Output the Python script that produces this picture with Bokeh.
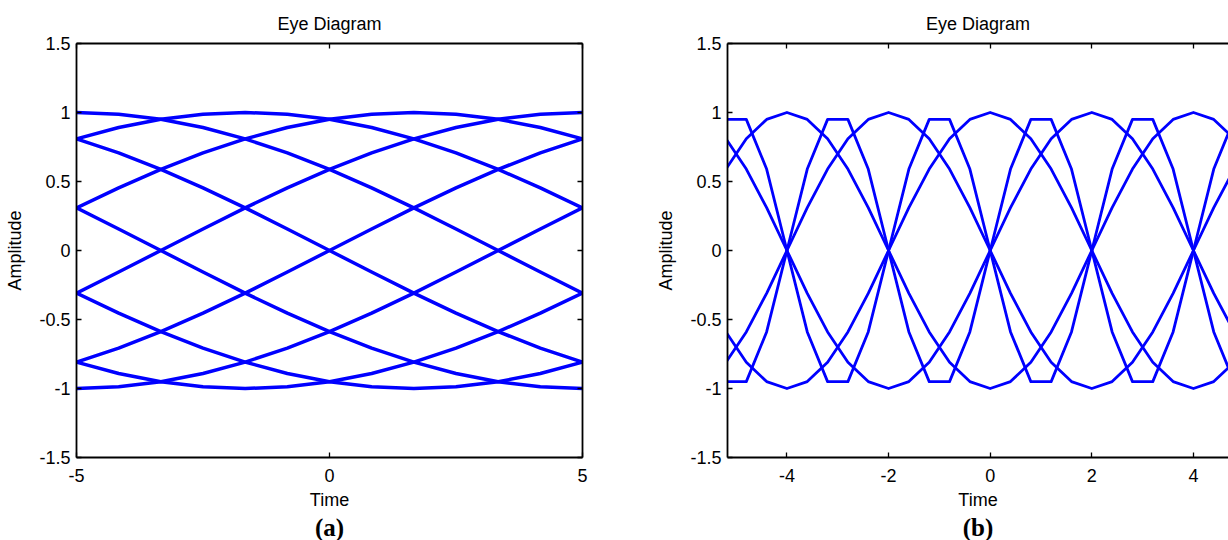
from bokeh.plotting import figure
from bokeh.layouts import row
from bokeh.models import FixedTicker, LinearAxis, Title, PrintfTickFormatter, Range1d
from bokeh.embed import file_html
from bokeh.resources import INLINE

# ---- panel (a): slow sinusoid traces over one display window ----
time_a = [-5.0, -4.1667, -3.3333, -2.5, -1.6667, -0.8333, 0.0,
          0.8333, 1.6667, 2.5, 3.3333, 4.1667, 5.0]
traces_a = [
    [1.0, 0.988, 0.951, 0.891, 0.809, 0.707, 0.588, 0.454, 0.309, 0.156, 0.0, -0.156, -0.309],
    [0.809, 0.707, 0.588, 0.454, 0.309, 0.156, 0.0, -0.156, -0.309, -0.454, -0.588, -0.707, -0.809],
    [0.309, 0.156, 0.0, -0.156, -0.309, -0.454, -0.588, -0.707, -0.809, -0.891, -0.951, -0.988, -1.0],
    [-0.309, -0.454, -0.588, -0.707, -0.809, -0.891, -0.951, -0.988, -1.0, -0.988, -0.951, -0.891, -0.809],
    [-0.809, -0.891, -0.951, -0.988, -1.0, -0.988, -0.951, -0.891, -0.809, -0.707, -0.588, -0.454, -0.309],
    [-1.0, -0.988, -0.951, -0.891, -0.809, -0.707, -0.588, -0.454, -0.309, -0.156, 0.0, 0.156, 0.309],
    [-0.809, -0.707, -0.588, -0.454, -0.309, -0.156, 0.0, 0.156, 0.309, 0.454, 0.588, 0.707, 0.809],
    [-0.309, -0.156, 0.0, 0.156, 0.309, 0.454, 0.588, 0.707, 0.809, 0.891, 0.951, 0.988, 1.0],
    [0.309, 0.454, 0.588, 0.707, 0.809, 0.891, 0.951, 0.988, 1.0, 0.988, 0.951, 0.891, 0.809],
    [0.809, 0.891, 0.951, 0.988, 1.0, 0.988, 0.951, 0.891, 0.809, 0.707, 0.588, 0.454, 0.309],
]

# ---- panel (b): coarsely sampled traces (0.4 time step) ----
time_b = [-5.2, -4.8, -4.4, -4.0, -3.6, -3.2, -2.8, -2.4, -2.0, -1.6, -1.2, -0.8, -0.4, 0.0,
          0.4, 0.8, 1.2, 1.6, 2.0, 2.4, 2.8, 3.2, 3.6, 4.0, 4.4, 4.8, 5.2]
traces_b = [
    [0.95, 0.95, 0.59, 0.0, -0.59, -0.95, -0.95, -0.59, 0.0, 0.59, 0.95, 0.95, 0.59, 0.0,
     -0.59, -0.95, -0.95, -0.59, 0.0, 0.59, 0.95, 0.95, 0.59, 0.0, -0.59, -0.95, -0.95],
    [-0.95, -0.95, -0.59, 0.0, 0.59, 0.95, 0.95, 0.59, 0.0, -0.59, -0.95, -0.95, -0.59, 0.0,
     0.59, 0.95, 0.95, 0.59, 0.0, -0.59, -0.95, -0.95, -0.59, 0.0, 0.59, 0.95, 0.95],
    [0.59, 0.81, 0.95, 1.0, 0.95, 0.81, 0.59, 0.31, 0.0, -0.31, -0.59, -0.81, -0.95, -1.0,
     -0.95, -0.81, -0.59, -0.31, 0.0, 0.31, 0.59, 0.81, 0.95, 1.0, 0.95, 0.81, 0.59],
    [-0.59, -0.81, -0.95, -1.0, -0.95, -0.81, -0.59, -0.31, 0.0, 0.31, 0.59, 0.81, 0.95, 1.0,
     0.95, 0.81, 0.59, 0.31, 0.0, -0.31, -0.59, -0.81, -0.95, -1.0, -0.95, -0.81, -0.59],
    [0.81, 0.59, 0.31, 0.0, -0.31, -0.59, -0.81, -0.95, -1.0, -0.95, -0.81, -0.59, -0.31, 0.0,
     0.31, 0.59, 0.81, 0.95, 1.0, 0.95, 0.81, 0.59, 0.31, 0.0, -0.31, -0.59, -0.81],
    [-0.81, -0.59, -0.31, 0.0, 0.31, 0.59, 0.81, 0.95, 1.0, 0.95, 0.81, 0.59, 0.31, 0.0,
     -0.31, -0.59, -0.81, -0.95, -1.0, -0.95, -0.81, -0.59, -0.31, 0.0, 0.31, 0.59, 0.81],
]

y_ticks = [-1.5, -1.0, -0.5, 0.0, 0.5, 1.0, 1.5]
x_ticks_a = [-5, 0, 5]
x_ticks_b = [-4, -2, 0, 2, 4]

SANS = "Liberation Sans"
SERIF = "Liberation Serif"
BLUE = "#0000ff"


def dress_axis(ax, ticks, labels=True, standoff=6):
    ax.ticker = FixedTicker(ticks=ticks)
    ax.formatter = PrintfTickFormatter(format="%g")
    ax.major_tick_in = 5
    ax.major_tick_out = 0
    ax.minor_tick_line_color = None
    ax.major_tick_line_color = "black"
    ax.major_tick_line_width = 1.3
    ax.axis_line_color = "black"
    ax.axis_line_width = 1.8
    ax.major_label_text_font = SANS
    ax.major_label_text_font_size = "18px"
    ax.major_label_text_color = "black" if labels else None
    ax.major_label_standoff = standoff if labels else 0
    ax.axis_label_text_font = SANS
    ax.axis_label_text_font_size = "18px"
    ax.axis_label_text_font_style = "normal"
    ax.axis_label_text_color = "black"


def eye_panel(xs, traces, x_range, x_ticks, border_left, border_right, width_line, caption):
    p = figure(width=614, height=540, x_range=x_range, y_range=Range1d(-1.5, 1.5),
               output_backend="svg", toolbar_location=None,
               min_border_left=border_left, min_border_right=border_right,
               min_border_top=43, min_border_bottom=83)
    p.outline_line_color = None
    p.xgrid.visible = False
    p.ygrid.visible = False
    p.background_fill_color = "white"
    p.border_fill_color = "white"

    p.title.text = "Eye Diagram"
    p.title.align = "center"
    p.title.text_font = SANS
    p.title.text_font_size = "18px"
    p.title.text_font_style = "normal"
    p.title.text_color = "black"
    p.title.standoff = 20

    for ys in traces:
        p.line(xs, ys, line_color=BLUE, line_width=width_line, line_join="round")

    xa = p.xaxis[0]
    dress_axis(xa, x_ticks, standoff=11)
    xa.axis_label = "Time"
    xa.axis_label_standoff = 5
    ya = p.yaxis[0]
    dress_axis(ya, y_ticks, standoff=6)
    ya.axis_label = "Amplitude"
    ya.axis_label_standoff = 11

    top = LinearAxis()
    dress_axis(top, x_ticks, labels=False)
    p.add_layout(top, "above")
    if border_right > 0:
        rgt = LinearAxis()
        dress_axis(rgt, y_ticks, labels=False)
        p.add_layout(rgt, "right")

    p.add_layout(Title(text=caption, align="center", text_font=SERIF,
                       text_font_size="25px", text_font_style="bold",
                       text_color="black", offset=-10, standoff=-1), "below")
    return p


pa = eye_panel(time_a, traces_a, Range1d(-5, 5), x_ticks_a, 76, 32, 3.5, "(a)")
pb = eye_panel(time_b, traces_b, Range1d(-5.17, 4.69), x_ticks_b, 113, 0, 2.8, "(b)")

layout = row(pa, pb)
open("out.html", "w").write(file_html(layout, INLINE))
